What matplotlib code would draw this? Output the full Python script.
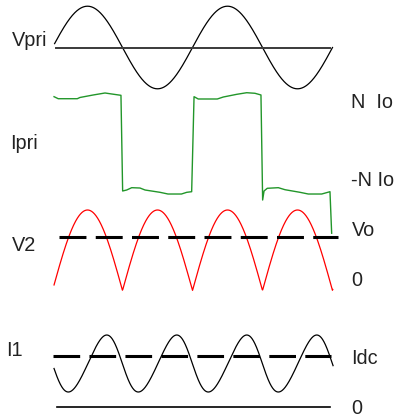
import numpy as np
import matplotlib
matplotlib.use("Agg")
import matplotlib.pyplot as plt

plt.rcParams['font.family'] = ['Liberation Sans', 'DejaVu Sans']
plt.rcParams['lines.scale_dashes'] = False

W, H = 403, 417

# time axis in periods of the primary voltage
t_start, t_end = 0.015, 2.0

# primary voltage (normalised amplitude)
vpri_amp = 1.0

# primary current, read point by point (units of N*Io)
ipri_t = [0.011, 0.041, 0.177, 0.196, 0.291, 0.375, 0.423, 0.489,
          0.501, 0.530, 0.566, 0.625, 0.661, 0.768, 0.825, 0.921, 0.959, 0.994,
          1.011, 1.041, 1.177, 1.220, 1.316, 1.387, 1.446, 1.489,
          1.501, 1.511, 1.534, 1.613, 1.661, 1.768, 1.827, 1.923, 1.982, 1.994]
ipri_v = [0.975, 0.932, 0.932, 0.958, 1.011, 1.053, 1.032, 1.004,
          -1.021, -1.0, -0.951, -0.958, -1.0, -1.049, -1.085, -1.085, -1.049, -1.036,
          0.975, 0.926, 0.926, 0.968, 1.025, 1.059, 1.047, 1.011,
          -1.212, -1.021, -0.964, -0.951, -0.994, -1.049, -1.085, -1.085, -1.036, -1.915]

# rectified secondary voltage and its mean
v2_peak = 1.0
vo_level = 0.66

# output current ripple around Idc
idc_level = 1.0
i1_mean = 0.843
i1_amp = 0.559
i1_trough = 0.113   # time of first minimum
i1_skew = 0.158

fig = plt.figure(figsize=(W / 100, H / 100), dpi=100)


def panel(y_top, y_bot, ylim):
    x0, x1 = 52.5, 332.5
    ax = fig.add_axes([x0 / W, 1 - y_bot / H, (x1 - x0) / W, (y_bot - y_top) / H])
    ax.set_xlim(0, 2)
    ax.set_ylim(*ylim)
    ax.axis('off')
    return ax


t = np.linspace(t_start, t_end, 800)

# Vpri
ax1 = panel(6.2, 88.8, (-1, 1))
ax1.plot(t, vpri_amp * np.sin(2 * np.pi * t), color='black', lw=0.9, clip_on=False)
ax1.plot([0.025, 1.98], [0, 0], color='#3a3a3a', lw=1.4, clip_on=False)

# Ipri
ax2 = panel(95.5, 190, (-1, 1))
ax2.plot(ipri_t, ipri_v, color='#22962a', lw=1.0, clip_on=False)

# V2
ax3 = panel(210, 290.5, (0, 1))
t3 = np.linspace(0.011, 2.002, 800)
ax3.plot(t3, v2_peak * np.abs(np.sin(2 * np.pi * t3)), color='red', lw=0.9, clip_on=False)
ax3.plot([0.049, 2.042], [vo_level, vo_level], color='black', lw=2.2,
         dashes=(19.4, 6.7), clip_on=False)

# I1
ax4 = panel(355.5, 406.5, (0, 1))
t4 = np.linspace(0.011, 2.004, 800)
phi = 2 * np.pi * (t4 - i1_trough) / 0.5
psi = phi - i1_skew * (1 - np.cos(phi))
ax4.plot(t4, i1_mean - i1_amp * np.cos(psi), color='black', lw=0.9, clip_on=False)
ax4.plot([0.0, 1.989], [idc_level, idc_level], color='black', lw=2.2,
         dashes=(19.2, 6.7), clip_on=False)
ax4.plot([0.034, 1.98], [0, 0], color='black', lw=1.2, clip_on=False)

# labels
fs = 14.3
labels = [
    ("Vpri", 12, 46), ("Ipri", 10.4, 149), ("V2", 12.3, 251), ("I1", 6.5, 355.7),
    ("N  Io", 351, 107.7), ("-N Io", 351, 186), ("Vo", 351.7, 235.7),
    ("0", 351, 286.5), ("Idc", 351.4, 364), ("0", 351.5, 414.5),
]
for s, x, y in labels:
    fig.text(x / W, 1 - y / H, s, fontsize=fs, color='#222222', va='baseline', ha='left')

fig.savefig('out.png', dpi=100)
